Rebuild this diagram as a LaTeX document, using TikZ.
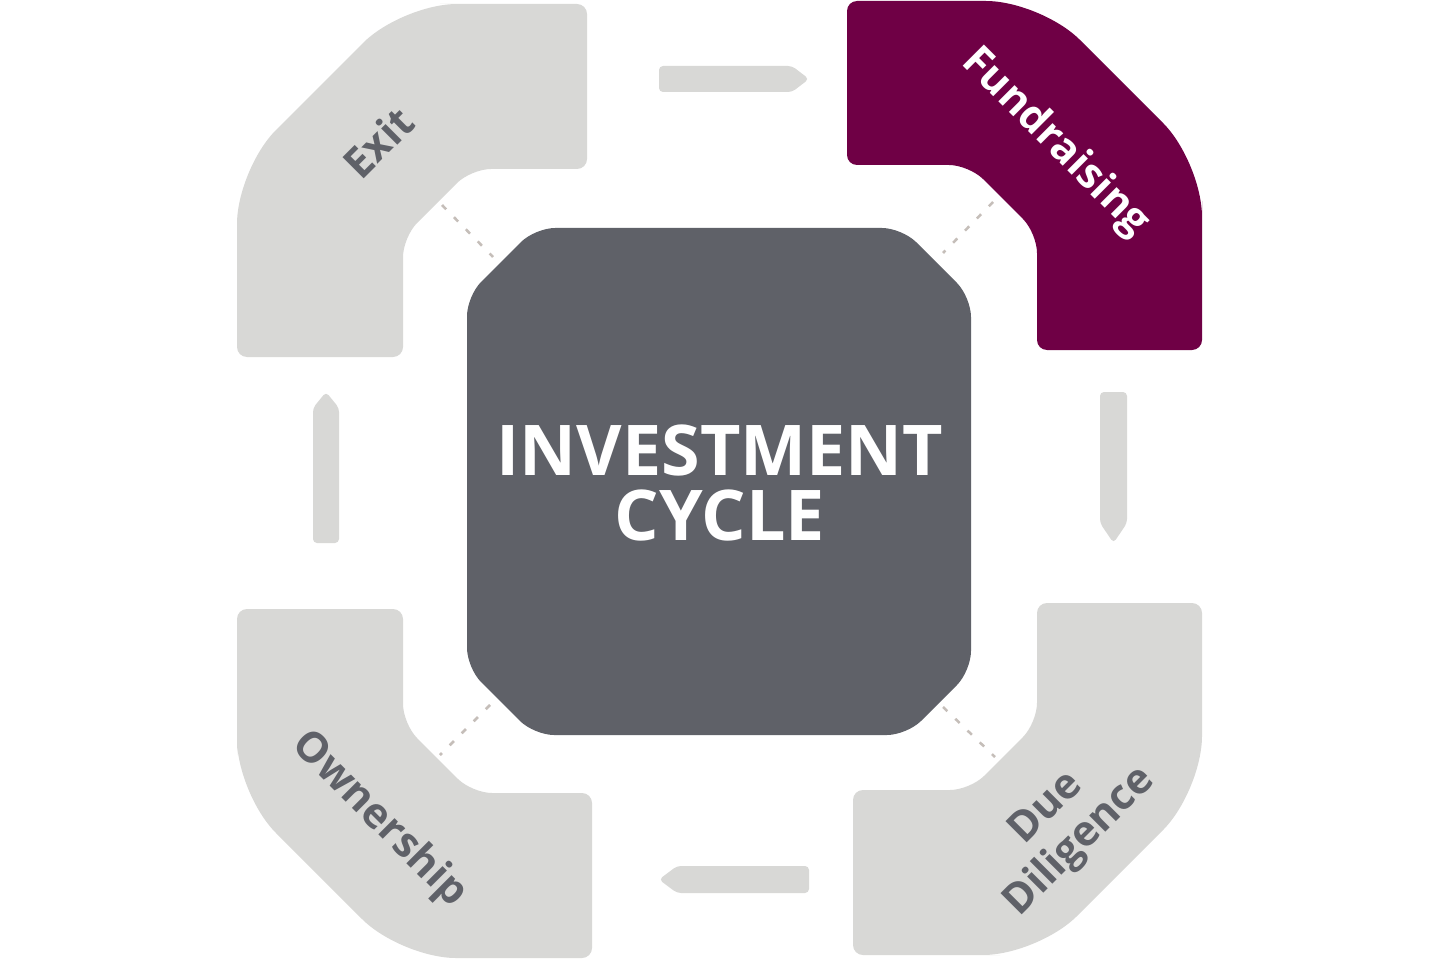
\documentclass[tikz,border=0pt]{standalone}
\usepackage{fontspec}
\setmainfont{Open Sans}
\definecolor{panel}{HTML}{D8D8D6}
\definecolor{plum}{HTML}{6F0045}
\definecolor{slate}{HTML}{5F6168}
\definecolor{dashc}{HTML}{C5BEB9}
\tikzset{
  panelfill/.style={fill=panel},
  arrowfill/.style={fill=panel, rounded corners=4},
  dashlink/.style={draw=dashc, line width=2.5pt, dash pattern=on 6pt off 11pt},
  labeltext/.style={font=\fontsize{42}{47}\selectfont\bfseries, text=slate, inner sep=0pt, align=center},
}
\begin{document}
\begin{tikzpicture}[x=1pt,y=-1pt]
\useasboundingbox (0,0) rectangle (1440,960);
\fill[white] (0,0) rectangle (1440,960);

% Fundraising (top right)
\fill[plum, rounded corners=10] (847,83) -- (847,1) -- (944,1) [rounded corners=55] -- (1041,1) -- (1202,162) -- (1202,256) [rounded corners=10] -- (1202,350) -- (1037,350) -- (1037,291) [rounded corners=20] -- (1037,233) -- (969,165) -- (908,165) [rounded corners=10] -- (847,165) -- cycle;

% Exit (top left)
\fill[panelfill, rounded corners=10] (587,86) -- (587,169) -- (529,169) [rounded corners=20] -- (471,169) -- (403,237) -- (403,297) [rounded corners=10] -- (403,357) -- (237,357) -- (237,263) [rounded corners=55] -- (237,169) -- (402,4) -- (495,4) [rounded corners=10] -- (587,4) -- cycle;

% Due Diligence (bottom right)
\fill[panelfill, rounded corners=10] (1120,603) -- (1202,603) -- (1202,697) [rounded corners=55] -- (1202,791) -- (1038,955) -- (945,955) [rounded corners=10] -- (853,955) -- (853,790) -- (911,790) [rounded corners=20] -- (970,790) -- (1037,723) -- (1037,663) [rounded corners=10] -- (1037,603) -- cycle;

% Ownership (bottom left)
\fill[panelfill, rounded corners=10] (320,609) -- (403,609) -- (403,666) [rounded corners=20] -- (403,724) -- (472,793) -- (532,793) [rounded corners=10] -- (592,793) -- (592,958) -- (496,958) [rounded corners=55] -- (401,958) -- (237,794) -- (237,700) [rounded corners=10] -- (237,609) -- cycle;

% central octagon
\fill[slate, rounded corners=20] (718,228) -- (902,228) -- (971,297) -- (971,671) -- (907,735) -- (534,735) -- (467,668) -- (467,296) -- (535,228) -- cycle;

% arrows
\fill[arrowfill] (659,66) -- (792,66) -- (809,79) -- (792,92) -- (659,92) -- cycle;
\fill[arrowfill] (1100,392) -- (1127,392) -- (1127,523) -- (1113.5,543) -- (1100,523) -- cycle;
\fill[arrowfill] (809,866) -- (809,893) -- (677,893) -- (659,879.5) -- (677,866) -- cycle;
\fill[arrowfill] (313,543) -- (313,408) -- (326,392) -- (339,408) -- (339,543) -- cycle;

% dashed links
\coordinate (tlA) at (442,205); \coordinate (tlB) at (493,257);
\coordinate (trA) at (993,202); \coordinate (trB) at (943,253);
\coordinate (brA) at (943,707); \coordinate (brB) at (995,757);
\coordinate (blA) at (490,705); \coordinate (blB) at (440,755);
\draw[dashlink] (tlA) -- (tlB);
\draw[dashlink] (trA) -- (trB);
\draw[dashlink] (brA) -- (brB);
\draw[dashlink] (blA) -- (blB);

% texts
\node[font=\fontsize{70}{65}\selectfont\bfseries, text=white, inner sep=0pt, align=center] (center) at (720,483) {INVESTMENT\\CYCLE};
\node[labeltext, text=white, rotate=-45] (fund) at (1055,143) {Fundraising};
\node[labeltext, rotate=45] (exit) at (378,142) {Exit};
\node[labeltext, rotate=-45] (own) at (379,820) {Ownership};
\node[labeltext, rotate=45] (due) at (1064,826) {Due\\Diligence};
\end{tikzpicture}
\end{document}
